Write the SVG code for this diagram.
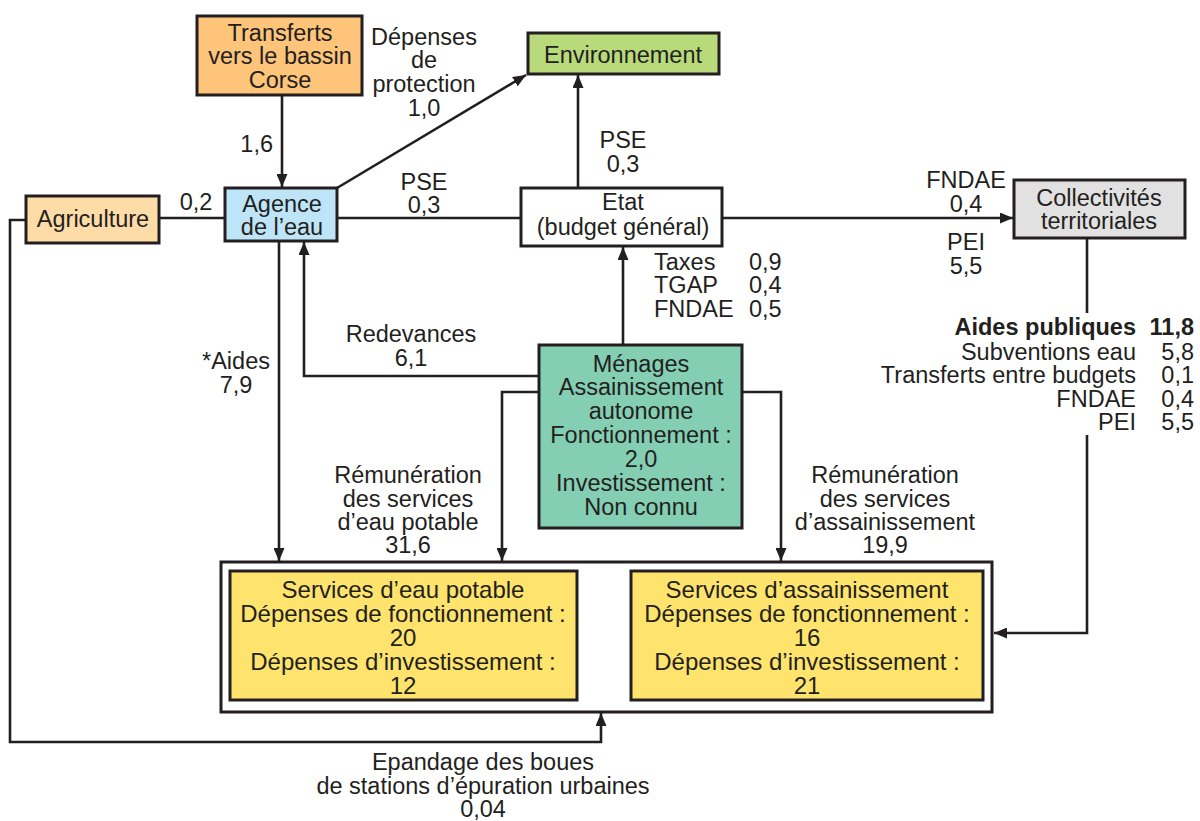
<svg xmlns="http://www.w3.org/2000/svg" width="1200" height="821" viewBox="0 0 1200 821">
<style>
text{font-family:"Liberation Sans",Arial,sans-serif;font-size:23.5px;fill:#231F20}
.c{text-anchor:middle}
.e{text-anchor:end}
.y{font-size:24px}
.b{font-weight:bold}
.box{stroke:#231F20;stroke-width:3}
.ln{fill:none;stroke:#231F20;stroke-width:2.6}
.ar{marker-end:url(#ah)}
</style>
<defs>
<marker id="ah" markerUnits="userSpaceOnUse" viewBox="0 0 13 11" refX="13" refY="5.5" markerWidth="13" markerHeight="11" orient="auto">
<path d="M0,0 L13,5.5 L0,11 z" fill="#231F20"/>
</marker>
</defs>
<rect width="1200" height="821" fill="#fff"/>

<g id="connectors">
<path class="ln ar" d="M282,95 V187"/>
<path class="ln ar" d="M337,188 L526,75"/>
<path class="ln" d="M159,218 H225"/>
<path class="ln" d="M337,218 H521"/>
<path class="ln ar" d="M722,218 H1013"/>
<path class="ln ar" d="M578,188 V75"/>
<path class="ln ar" d="M623,345 V247"/>
<path class="ln ar" d="M539,376 H304 V242"/>
<path class="ln ar" d="M279,242 V561"/>
<path class="ln ar" d="M539,392 H502 V561"/>
<path class="ln ar" d="M742,392 H781 V561"/>
<path class="ln" d="M1087,238 V313"/>
<path class="ln ar" d="M1087,435 V633 H994"/>
<path class="ln ar" d="M26,220 H10 V742 H601 V713"/>
</g>

<g id="transferts">
<rect class="box" x="197" y="16" width="165" height="79" fill="#FDC47A"/>
<text class="c" x="280" y="41">Transferts</text>
<text class="c" x="280" y="64">vers le bassin</text>
<text class="c" x="280" y="88">Corse</text>
</g>

<g id="agriculture">
<rect class="box" x="26" y="196" width="133" height="47" fill="#FEDCA8"/>
<text class="c" x="93" y="227">Agriculture</text>
</g>

<g id="agence">
<rect class="box" x="225" y="188" width="112" height="53" fill="#BEE5F7"/>
<text class="c" x="282" y="212">Agence</text>
<text class="c" x="282" y="235">de l’eau</text>
</g>

<g id="environnement">
<rect class="box" x="528" y="33" width="191" height="41" fill="#B9DA7B"/>
<text class="c" x="623" y="63">Environnement</text>
</g>

<g id="etat">
<rect class="box" x="521" y="188" width="201" height="58" fill="#fff"/>
<text class="c" x="623" y="210">Etat</text>
<text class="c" x="623" y="235">(budget général)</text>
</g>

<g id="collectivites">
<rect class="box" x="1014" y="180" width="171" height="58" fill="#E1E1E2"/>
<text class="c" x="1099" y="206">Collectivités</text>
<text class="c" x="1099" y="229">territoriales</text>
</g>

<g id="menages">
<rect class="box" x="539" y="345" width="203" height="183" fill="#84CFB4"/>
<text class="c" x="641" y="372">Ménages</text>
<text class="c" x="641" y="395">Assainissement</text>
<text class="c" x="641" y="419">autonome</text>
<text class="c" x="641" y="443">Fonctionnement :</text>
<text class="c" x="641" y="467">2,0</text>
<text class="c" x="641" y="491">Investissement :</text>
<text class="c" x="641" y="515">Non connu</text>
</g>

<g id="services">
<rect class="box" x="221" y="562" width="771" height="150" fill="#fff"/>
<g id="eau-potable">
<rect class="box" x="230" y="571" width="347" height="129" fill="#FEE46C"/>
<text class="c y" x="403" y="598">Services d’eau potable</text>
<text class="c y" x="403" y="622">Dépenses de fonctionnement :</text>
<text class="c y" x="403" y="646">20</text>
<text class="c y" x="403" y="670">Dépenses d’investissement :</text>
<text class="c y" x="403" y="694">12</text>
</g>
<g id="assainissement">
<rect class="box" x="631" y="571" width="352" height="129" fill="#FEE46C"/>
<text class="c y" x="807" y="598">Services d’assainissement</text>
<text class="c y" x="807" y="622">Dépenses de fonctionnement :</text>
<text class="c y" x="807" y="646">16</text>
<text class="c y" x="807" y="670">Dépenses d’investissement :</text>
<text class="c y" x="807" y="694">21</text>
</g>
</g>

<g id="labels">
<text class="c" x="424" y="45">Dépenses</text>
<text class="c" x="424" y="68">de</text>
<text class="c" x="424" y="92">protection</text>
<text class="c" x="424" y="116">1,0</text>
<text class="e" x="273" y="152">1,6</text>
<text class="c" x="196" y="210">0,2</text>
<text class="c" x="424" y="190">PSE</text>
<text class="c" x="424" y="213">0,3</text>
<text class="c" x="623" y="148">PSE</text>
<text class="c" x="623" y="172">0,3</text>
<text class="c" x="966" y="188">FNDAE</text>
<text class="c" x="966" y="212">0,4</text>
<text class="c" x="966" y="250">PEI</text>
<text class="c" x="966" y="274">5,5</text>
<text x="654" y="270">Taxes</text>
<text x="654" y="293">TGAP</text>
<text x="654" y="317">FNDAE</text>
<text x="749" y="270">0,9</text>
<text x="749" y="293">0,4</text>
<text x="749" y="317">0,5</text>
<text class="c" x="411" y="342">Redevances</text>
<text class="c" x="411" y="366">6,1</text>
<text class="c" x="236" y="369">*Aides</text>
<text class="c" x="236" y="393">7,9</text>
<text class="c" x="408" y="483">Rémunération</text>
<text class="c" x="408" y="507">des services</text>
<text class="c" x="408" y="530">d’eau potable</text>
<text class="c" x="408" y="553">31,6</text>
<text class="c" x="885" y="483">Rémunération</text>
<text class="c" x="885" y="507">des services</text>
<text class="c" x="885" y="530">d’assainissement</text>
<text class="c" x="885" y="553">19,9</text>
<text class="e b" x="1136" y="335">Aides publiques</text>
<text class="e" x="1136" y="360">Subventions eau</text>
<text class="e" x="1136" y="383">Transferts entre budgets</text>
<text class="e" x="1136" y="407">FNDAE</text>
<text class="e" x="1136" y="430">PEI</text>
<text class="e b" x="1194" y="335">11,8</text>
<text class="e" x="1194" y="360">5,8</text>
<text class="e" x="1194" y="383">0,1</text>
<text class="e" x="1194" y="407">0,4</text>
<text class="e" x="1194" y="430">5,5</text>
<text class="c" x="483" y="770">Epandage des boues</text>
<text class="c" x="483" y="794">de stations d’épuration urbaines</text>
<text class="c" x="483" y="817">0,04</text>
</g>
</svg>
